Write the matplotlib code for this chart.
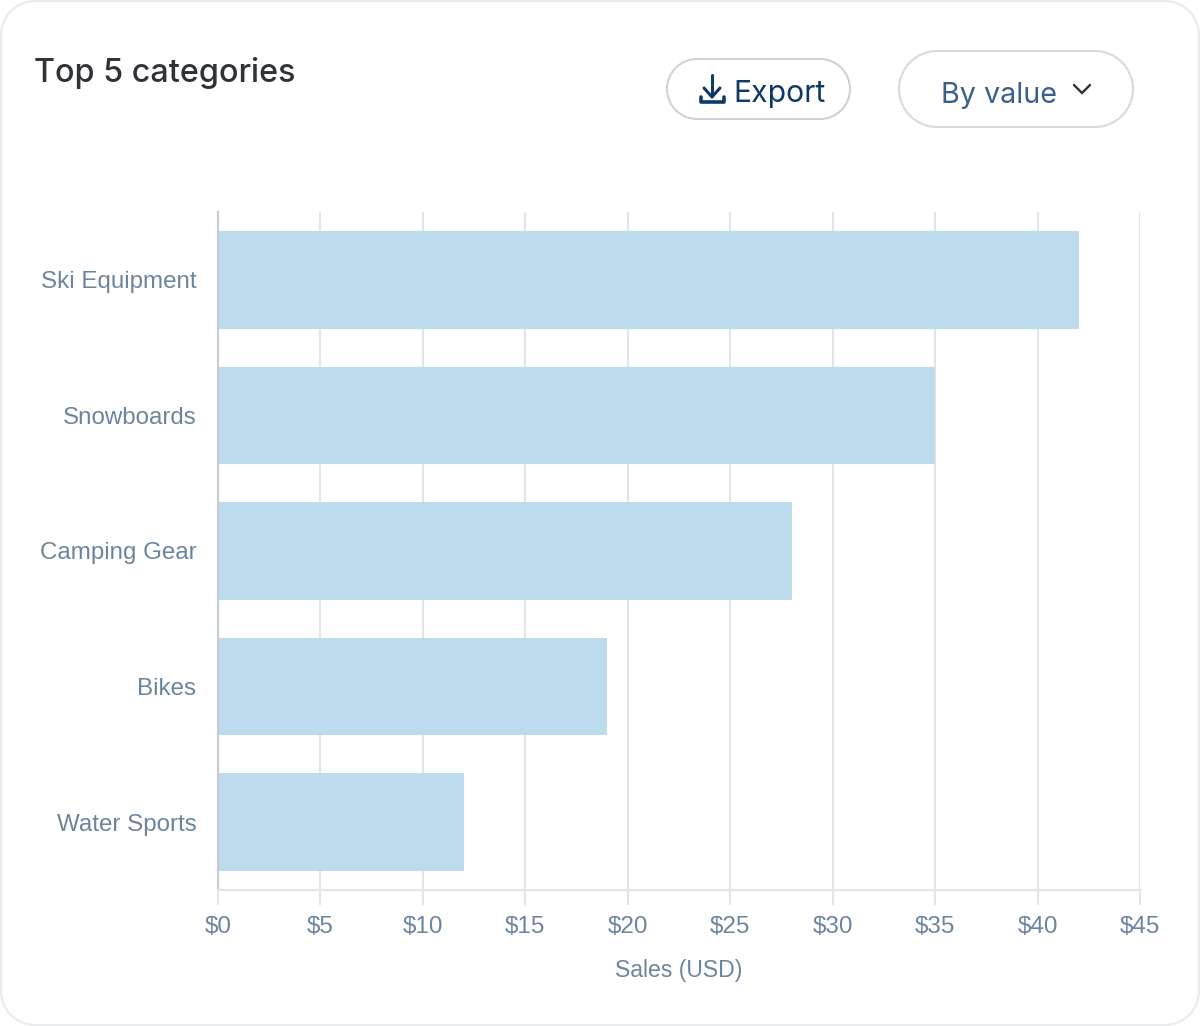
import matplotlib
matplotlib.use("Agg")
import matplotlib.pyplot as plt
from matplotlib.patches import PathPatch
from matplotlib.path import Path

categories = ["Ski Equipment", "Snowboards", "Camping Gear", "Bikes", "Water Sports"]
sales = [42, 35, 28, 19, 12]
ticks = [0, 5, 10, 15, 20, 25, 30, 35, 40, 45]
tick_labels = [f"${t}" for t in ticks]
title = "Top 5 categories"
xlabel = "Sales (USD)"

W, H = 1200, 1026
fig = plt.figure(figsize=(W / 100, H / 100), dpi=100, facecolor="white")

ov = fig.add_axes([0, 0, 1, 1], zorder=0)
ov.set_xlim(0, W); ov.set_ylim(H, 0); ov.axis("off")

def pill(x0, y0, x1, y1, r, ec, lw):
    k = r * 0.5523
    v = [(x0 + r, y0), (x1 - r, y0),
         (x1 - r + k, y0), (x1, y0 + r - k), (x1, y0 + r),
         (x1, y1 - r),
         (x1, y1 - r + k), (x1 - r + k, y1), (x1 - r, y1),
         (x0 + r, y1),
         (x0 + r - k, y1), (x0, y1 - r + k), (x0, y1 - r),
         (x0, y0 + r),
         (x0, y0 + r - k), (x0 + r - k, y0), (x0 + r, y0),
         (x0 + r, y0)]
    c = [Path.MOVETO, Path.LINETO,
         Path.CURVE4, Path.CURVE4, Path.CURVE4,
         Path.LINETO,
         Path.CURVE4, Path.CURVE4, Path.CURVE4,
         Path.LINETO,
         Path.CURVE4, Path.CURVE4, Path.CURVE4,
         Path.LINETO,
         Path.CURVE4, Path.CURVE4, Path.CURVE4,
         Path.CLOSEPOLY]
    ov.add_patch(PathPatch(Path(v, c), fc="white", ec=ec, lw=lw))

pill(1, 1, 1199, 1025, 34, "#e9ebed", 1.6)
pill(667, 59, 850, 119, 30, "#cbd2d9", 1.5)
pill(899, 51, 1133, 127, 38, "#d5dade", 1.5)

ov.text(34, 73, title, fontsize=23.3, family="Inter", weight="medium", color="#2f3338", va="center", ha="left")
ov.text(733, 94, "Export", fontsize=21.7, family="Inter", color="#0f3a66", va="center", ha="left")
ov.text(941, 95.5, "By value", fontsize=20.7, family="Inter", color="#3a5f8a", va="center", ha="left")

navy = "#0f3a66"
ov.plot([712, 712], [75, 96], color=navy, lw=2.2, solid_capstyle="round")
ov.plot([704, 712, 720], [88, 97, 88], color=navy, lw=2.2, solid_capstyle="round", solid_joinstyle="round")
ov.plot([701, 701, 724, 724], [97, 101.5, 101.5, 97], color=navy, lw=2.6, solid_capstyle="round", solid_joinstyle="round")
ov.plot([1074, 1082, 1090], [85, 93, 85], color="#2f3338", lw=1.7, solid_capstyle="round", solid_joinstyle="miter")

L, R, T, B = 218, 1140, 212, 890
ax = fig.add_axes([L / W, 1 - B / H, (R - L) / W, (B - T) / H], zorder=1)
ax.patch.set_alpha(0)
ypos = list(range(len(categories)))
ax.barh(ypos, sales, height=0.72, color="#bcdbed", zorder=2)
ax.set_xlim(0, 45)
ax.set_ylim(len(categories) - 0.5, -0.5)
ax.set_yticks(ypos, categories)
ax.set_xticks(ticks, tick_labels)
ax.grid(axis="x", color="#e3e4e6", lw=1.5, zorder=1)
ax.set_axisbelow(True)
for s in ("top", "right"):
    ax.spines[s].set_visible(False)
ax.spines["left"].set_color("#c8ccd2")
ax.spines["left"].set_linewidth(1.5)
ax.spines["bottom"].set_color("#e3e4e6")
ax.spines["bottom"].set_linewidth(1.5)
ax.tick_params(axis="y", length=0, pad=15.5, labelsize=17.4, labelcolor="#6b85a0")
ax.tick_params(axis="x", length=11, width=1.5, color="#e3e4e6", pad=8, labelsize=17.5, labelcolor="#6b85a0")
for t in ax.get_xticklabels() + ax.get_yticklabels():
    t.set_family("Liberation Sans")
ov.text(679, 970, xlabel, fontsize=16.6, family="Liberation Sans", color="#6b85a0", ha="center", va="center")

fig.savefig("out.png", dpi=100, facecolor="white")
